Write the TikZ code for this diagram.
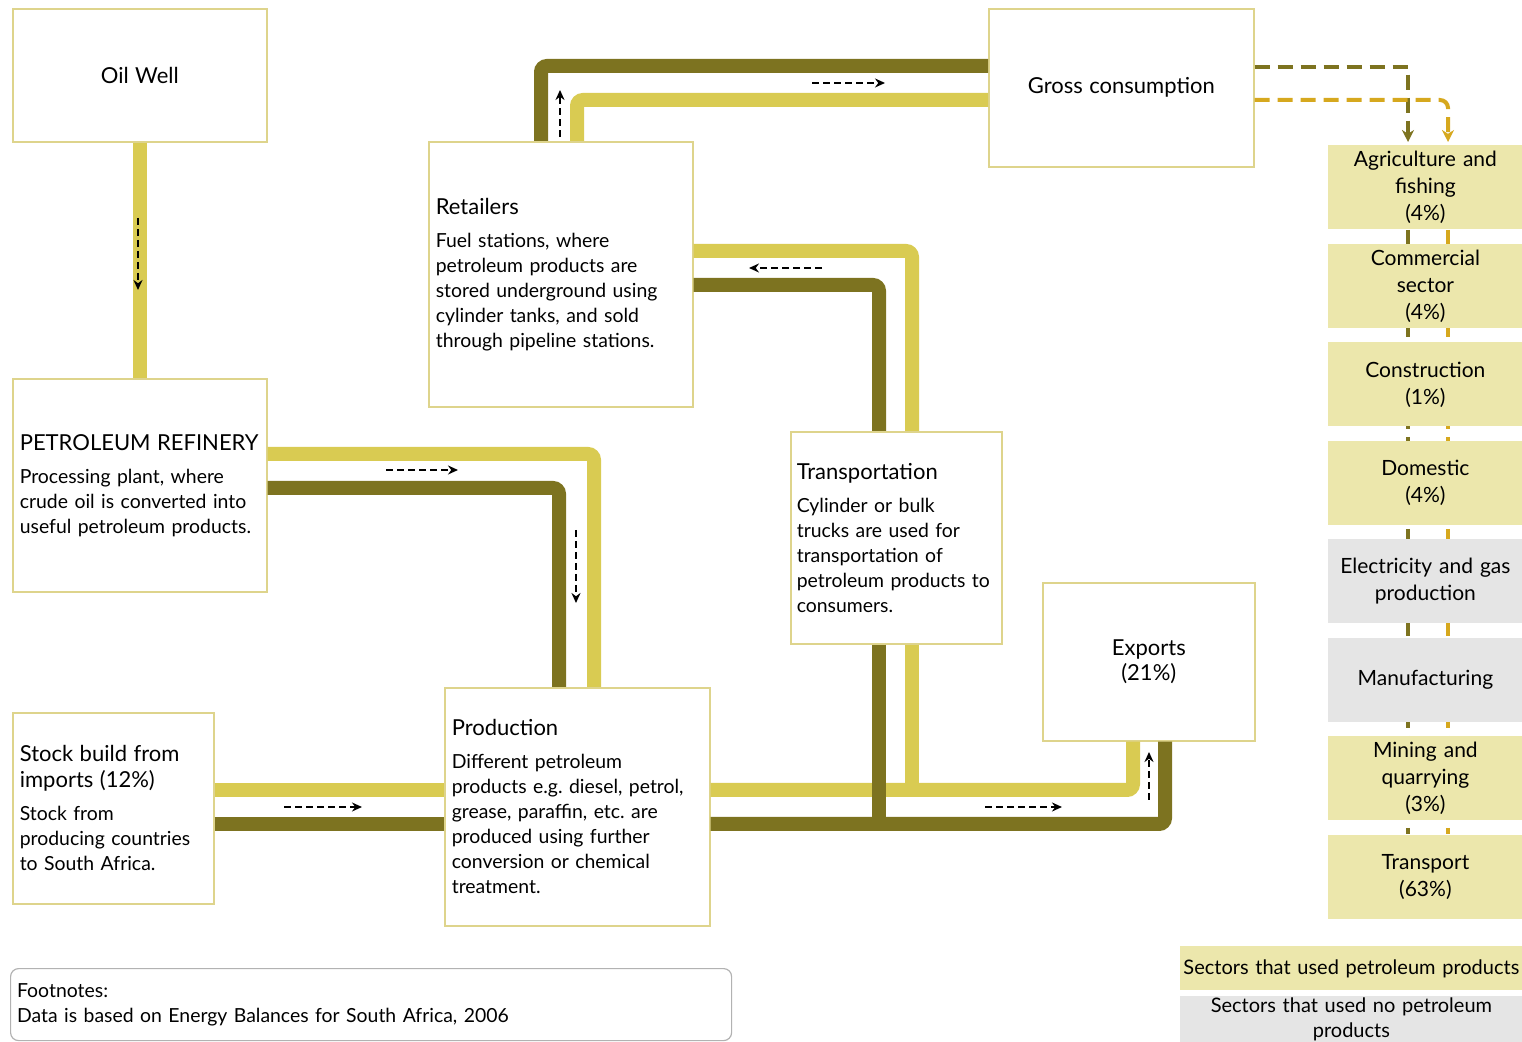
\documentclass[tikz,border=0pt]{standalone}
\usepackage{fontspec}
\setmainfont{Lato}
\usetikzlibrary{arrows.meta, positioning, calc}
\definecolor{pipedark}{RGB}{125,115,32}
\definecolor{pipelight}{RGB}{217,203,82}
\definecolor{boxline}{RGB}{222,212,140}
\definecolor{sectorfill}{RGB}{236,231,172}
\definecolor{sectorgrey}{RGB}{229,229,229}
\definecolor{golddash}{RGB}{214,168,30}
\newcommand{\stagetitle}{\fontsize{11}{13}\selectfont}
\pgfdeclarelayer{background}
\pgfsetlayers{background,main}
\frenchspacing

\begin{document}
\begin{tikzpicture}[x=0.5pt, y=-0.5pt, font=\fontsize{9.7}{12.5}\selectfont,
        stage/.style={rectangle, draw=boxline, line width=0.8pt, fill=white,
                      anchor=north west, inner xsep=3.5pt, inner ysep=0pt, align=left},
        sector/.style={rectangle, fill=#1, anchor=north west, minimum width=97pt,
                       minimum height=42pt, text width=95pt, inner sep=0pt, align=center,
                       font=\fontsize{10.5}{13.5}\selectfont},
        lightpipe/.style={draw=pipelight, line width=7pt, rounded corners=3pt},
        darkpipe/.style={draw=pipedark, line width=7pt, rounded corners=3pt},
        flowarrow/.style={dash pattern=on 3.5pt off 2pt, line width=0.8pt,
                          -{Stealth[length=5pt,width=4.5pt]}},
        usedash/.style={line width=2pt, dash pattern=on 7.5pt off 4pt}
    ]
    \useasboundingbox (0,0) rectangle (1522,1042);

    % stages of the supply chain
    \node[stage, minimum width=127pt, minimum height=66.5pt, text width=120pt, align=center]
        (well) at (12,8) {\stagetitle Oil Well};
    \node[stage, minimum width=127pt, minimum height=106.5pt, text width=120pt]
        (refinery) at (12,378) {{\stagetitle PETROLEUM REFINERY}\\[4pt]
        Processing plant, where\\crude oil is converted into\\useful petroleum products.};
    \node[stage, minimum width=132pt, minimum height=132.5pt, text width=125pt]
        (retail) at (428,141) {{\stagetitle Retailers}\\[4pt]
        Fuel stations, where\\petroleum products are\\stored underground using\\
        cylinder tanks, and sold\\through pipeline stations.};
    \node[stage, minimum width=132.5pt, minimum height=79pt, text width=125.5pt, align=center]
        (gross) at (988,8) {\stagetitle Gross consumption};
    \node[stage, minimum width=105.5pt, minimum height=106pt, text width=99.5pt, inner xsep=3pt]
        (transport) at (790,431) {{\stagetitle Transportation}\\[4pt]
        Cylinder or bulk\\trucks are used for\\transportation of\\petroleum products to\\consumers.};
    \node[stage, minimum width=106pt, minimum height=79pt, text width=99pt, align=center]
        (exports) at (1042,582) {\stagetitle Exports\\(21\%)};
    \node[stage, minimum width=100.5pt, minimum height=95.5pt, text width=93.5pt]
        (stock) at (12,712) {{\stagetitle Stock build from\\[0.5pt]imports (12\%)}\\[4pt]
        Stock from\\producing countries\\to South Africa.};
    \node[stage, minimum width=132.5pt, minimum height=119pt, text width=125.5pt]
        (prod) at (444,687) {{\stagetitle Production}\\[4pt]
        Different petroleum\\products e.g. diesel, petrol,\\grease, paraffin, etc. are\\
        produced using further\\conversion or chemical\\treatment.};

    % sectors
    \foreach \nm/\txt/\col [count=\i from 0] in {
            agri/{Agriculture and\\fishing\\(4\%)}/sectorfill,
            comm/{Commercial\\sector\\(4\%)}/sectorfill,
            constr/{Construction\\(1\%)}/sectorfill,
            domestic/{Domestic\\(4\%)}/sectorfill,
            elec/{Electricity and gas\\production}/sectorgrey,
            manuf/{Manufacturing}/sectorgrey,
            mining/{Mining and\\quarrying\\(3\%)}/sectorfill,
            sectrans/{Transport\\(63\%)}/sectorfill}
        \node[sector=\col] (\nm) at (1328,{145+98.5*\i}) {\txt};

    % legend and footnote
    \node[sector=sectorfill, minimum width=171pt, text width=171pt, minimum height=22pt,
        font=\fontsize{10}{12.5}\selectfont]
        (legused) at (1180,946) {Sectors that used petroleum products};
    \node[sector=sectorgrey, minimum width=171pt, text width=171pt, minimum height=23pt,
        font=\fontsize{10}{12.5}\selectfont]
        (legnone) at (1180,996) {Sectors that used no petroleum\\products};
    \node[rectangle, rounded corners=4pt, draw=black!30, line width=0.6pt, anchor=north west,
        minimum width=360.5pt, minimum height=36pt, text width=354pt, inner xsep=3pt, align=left]
        (foot) at (10,968) {Footnotes:\\Data is based on Energy Balances for South Africa, 2006};

    % pipes
    \coordinate (jlight) at (912,790);
    \coordinate (jdark) at (879,824);
    \draw[lightpipe] (well.south) -- (refinery.north);
    \draw[lightpipe] (refinery.east |- 0,454) -| (594,0 |- prod.north);
    \draw[lightpipe] (stock.east |- 0,790) -- (prod.west |- 0,790);
    \draw[lightpipe] (prod.east |- 0,790) -| (1133,0 |- exports.south);
    \draw[lightpipe] (912,0 |- transport.south) -- (jlight);
    \draw[lightpipe] (912,0 |- transport.north) |- (retail.east |- 0,251);
    \draw[lightpipe] (577,0 |- retail.north) |- (gross.west |- 0,100);
    \draw[darkpipe] (refinery.east |- 0,488) -| (559,0 |- prod.north);
    \draw[darkpipe] (stock.east |- 0,824) -- (prod.west |- 0,824);
    \draw[darkpipe] (prod.east |- 0,824) -| (1165,0 |- exports.south);
    \draw[darkpipe] (879,0 |- transport.south) -- (jdark);
    \draw[darkpipe] (879,0 |- transport.north) |- (retail.east |- 0,285);
    \draw[darkpipe] (541,0 |- retail.north) |- (gross.west |- 0,66);

    % direction of flow
    \draw[flowarrow] (138,218) -- (138,290);
    \draw[flowarrow] (386,470) -- (458,470);
    \draw[flowarrow] (576,530) -- (576,603);
    \draw[flowarrow] (284,807) -- (362,807);
    \draw[flowarrow] (985,807) -- (1062,807);
    \draw[flowarrow] (1149,800) -- (1149,752);
    \draw[flowarrow] (822,268) -- (749,268);
    \draw[flowarrow] (560,137) -- (560,90);
    \draw[flowarrow] (812,83) -- (885,83);

    % consumption split over sectors
    \draw[usedash, pipedark, shorten >=1.5pt, -{Stealth[length=6pt,width=6pt]}]
        (gross.east |- 0,67) -| (agri.north -| 1408,0);
    \draw[usedash, golddash, rounded corners=4pt, shorten >=1.5pt, -{Stealth[length=6pt,width=6pt]}]
        (gross.east |- 0,100) -| (agri.north -| 1448,0);
    \begin{pgfonlayer}{background}
        \draw[usedash, pipedark] (agri.south -| 1408,0) -- (sectrans.north -| 1408,0);
        \draw[usedash, golddash] (agri.south -| 1448,0) -- (sectrans.north -| 1448,0);
    \end{pgfonlayer}
\end{tikzpicture}
\end{document}
